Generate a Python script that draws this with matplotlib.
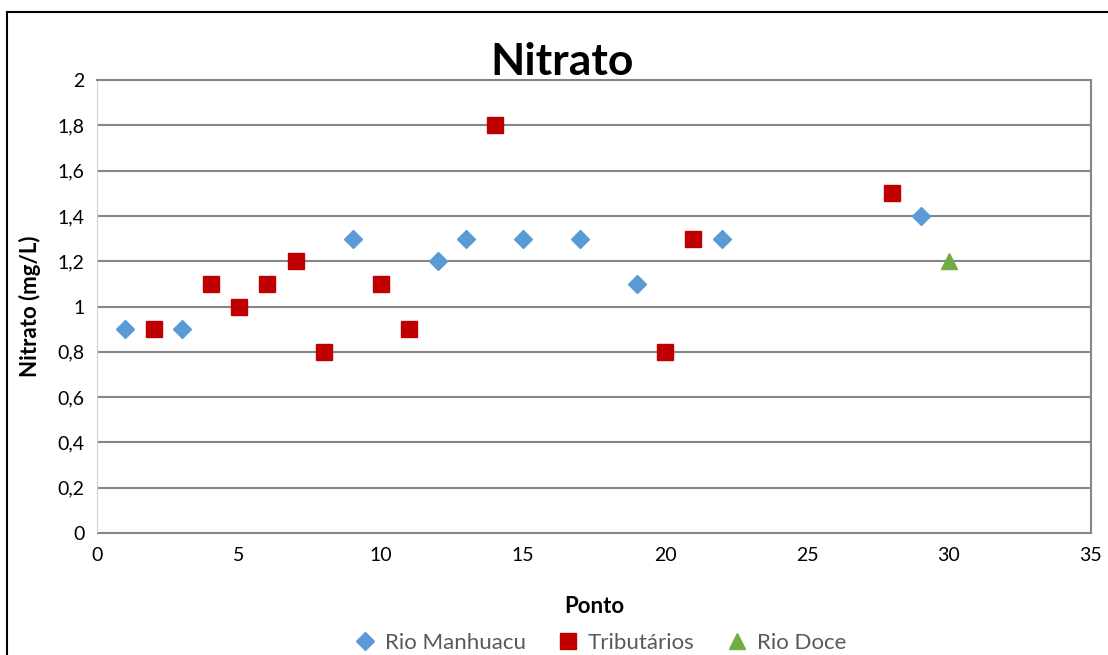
import matplotlib
import matplotlib.pyplot as plt
from matplotlib.patches import Rectangle
from matplotlib.ticker import FuncFormatter

matplotlib.use('Agg')

# data
manhuacu_x = [1, 3, 9, 12, 13, 15, 17, 19, 22, 29]
manhuacu_y = [0.9, 0.9, 1.3, 1.2, 1.3, 1.3, 1.3, 1.1, 1.3, 1.4]
trib_x = [2, 4, 5, 6, 7, 8, 10, 11, 14, 20, 21, 28]
trib_y = [0.9, 1.1, 1.0, 1.1, 1.2, 0.8, 1.1, 0.9, 1.8, 0.8, 1.3, 1.5]
doce_x = [30]
doce_y = [1.2]

W, H = 1108, 655
plt.rcParams['font.family'] = ['Lato', 'DejaVu Sans']

fig = plt.figure(figsize=(W / 100, H / 100), dpi=100)
ax = fig.add_axes([97 / W, 1 - 533 / H, (1091 - 97) / W, (533 - 80) / H])

ax.plot(manhuacu_x, manhuacu_y, 'D', color='#5B9BD5', markersize=9,
        label='Rio Manhuacu', zorder=3)
ax.plot(trib_x, trib_y, 's', color='#C00000', markersize=11,
        label='Tributários', zorder=3)
ax.plot(doce_x, doce_y, '^', color='#70AD47', markersize=12,
        label='Rio Doce', zorder=3)

ax.set_xlim(0, 35)
ax.set_ylim(0, 2)
ax.set_xticks(range(0, 36, 5))
ax.set_yticks([i * 0.2 for i in range(11)])
ax.yaxis.set_major_formatter(FuncFormatter(lambda v, p: ('%g' % round(v, 1)).replace('.', ',')))
ax.tick_params(length=0, labelsize=14, colors='black')
ax.tick_params(axis='x', pad=10)
ax.tick_params(axis='y', pad=9)
ax.grid(axis='y', color='#868686', linewidth=1.5)
ax.set_axisbelow(True)
for side in ['top', 'right']:
    ax.spines[side].set_color('#868686')
    ax.spines[side].set_linewidth(1.5)
ax.spines['left'].set_color('#D0D0D0')
ax.spines['bottom'].set_color('#868686')

ax.set_xlabel('Ponto', fontsize=16, fontweight='bold', labelpad=23)
ax.set_ylabel('Nitrato (mg/L)', fontsize=16, fontweight='bold', labelpad=12)
fig.text(562 / W, 1 - 62 / H, 'Nitrato', fontsize=32, fontweight='bold',
         ha='center', va='center')

fig.legend(loc='center', bbox_to_anchor=(600 / W, 1 - 643 / H), ncol=3,
           frameon=False, fontsize=16, handlelength=1.0, handletextpad=0.4,
           columnspacing=1.4, labelcolor='#595959')

# outer chart frame (runs off the right and bottom edges)
fig.add_artist(Rectangle((6.5 / W, -0.1), 1.2, 1.1 - 12 / H, fill=False,
                         edgecolor='black', linewidth=1.5,
                         transform=fig.transFigure))

fig.savefig('out.png', dpi=100)
